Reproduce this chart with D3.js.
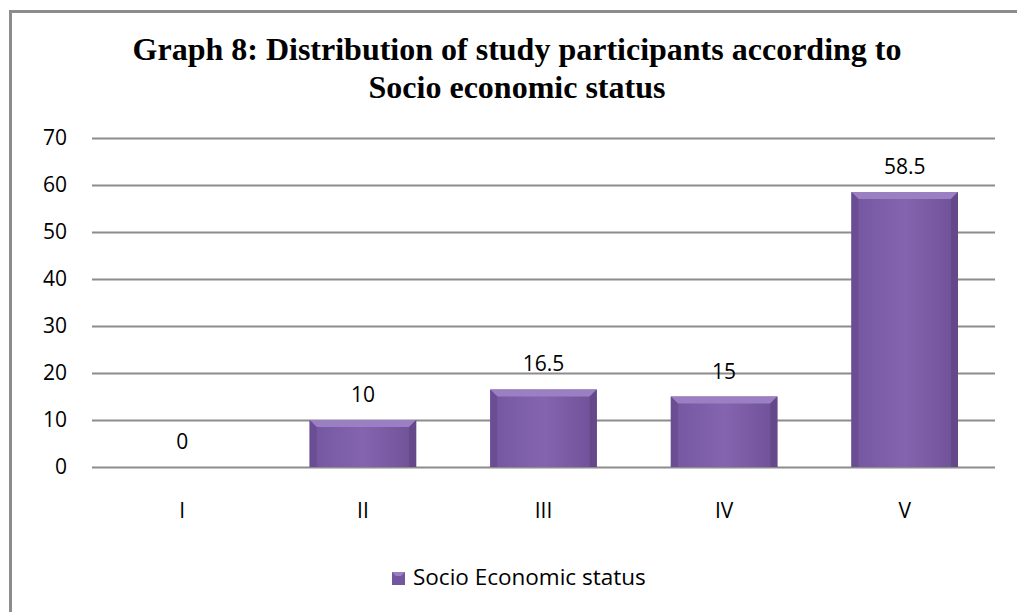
<!DOCTYPE html>
<html lang="en">
<head>
<meta charset="UTF-8">
<title>Graph 8</title>
<style>
    body { margin: 0; background: #fff; }
    svg { display: block; }
</style>
</head>
<body>
<div id="content"></div>
<script src="https://d3js.org/d3.v7.min.js"></script>
<script>

    // data
    var categories = ["I", "II", "III", "IV", "V"];
    var values = [0, 10, 16.5, 15, 58.5];
    var valueLabels = ["0", "10", "16.5", "15", "58.5"];
    var yTicks = [0, 10, 20, 30, 40, 50, 60, 70];
    var seriesName = "Socio Economic status";
    var titleLines = ["Graph 8: Distribution of study participants according to", "Socio economic status"];

    var width = 1017, height = 612;
    var margin = {left: 92, right: 22, top: 138, bottom: 145};
    var labelFont = "'Open Sans', 'Noto Sans', sans-serif";
    var labelSize = 21;

    var svg = d3.select("#content").append("svg")
        .attr("width", width)
        .attr("height", height);

    // outer frame
    svg.append("rect")
        .attr("x", 10.5).attr("y", 11.5)
        .attr("width", width + 10).attr("height", height + 10)
        .attr("fill", "none")
        .attr("stroke", "#8c8c8c")
        .attr("stroke-width", 3);

    var defs = svg.append("defs");
    var grad = defs.append("linearGradient").attr("id", "barGrad")
        .attr("x1", 0).attr("x2", 1).attr("y1", 0).attr("y2", 0);
    grad.append("stop").attr("offset", "0%").attr("stop-color", "#7456a0");
    grad.append("stop").attr("offset", "50%").attr("stop-color", "#8464ae");
    grad.append("stop").attr("offset", "100%").attr("stop-color", "#6f5198");

    // title
    svg.append("text")
        .attr("x", 517).attr("y", 60)
        .attr("text-anchor", "middle")
        .attr("font-family", "'Liberation Serif', 'Times New Roman', serif")
        .attr("font-weight", "bold")
        .attr("font-size", 32)
        .selectAll("tspan").data(titleLines).enter().append("tspan")
        .attr("x", 517)
        .attr("dy", function (d, i) { return i === 0 ? 0 : 38; })
        .text(function (d) { return d; });

    var x = d3.scaleBand()
        .domain(categories)
        .range([margin.left, width - margin.right])
        .paddingInner(0.41)
        .paddingOuter(0.205);

    var y = d3.scaleLinear()
        .domain([0, 70])
        .range([height - margin.bottom, margin.top]);

    // gridlines
    var yAxis = d3.axisLeft(y).tickValues(yTicks)
        .tickSize(-(width - margin.left - margin.right))
        .tickPadding(25);

    var yAxisG = svg.append("g")
        .attr("transform", "translate(" + margin.left + ",0)")
        .call(yAxis);
    yAxisG.select(".domain").remove();
    yAxisG.selectAll("line").attr("stroke", "#8c8c8c").attr("stroke-width", 2);
    yAxisG.selectAll("text")
        .attr("font-family", labelFont)
        .attr("font-size", labelSize)
        .attr("fill", "#000");

    var xAxis = d3.axisBottom(x).tickSize(0).tickPadding(36);
    var xAxisG = svg.append("g")
        .attr("transform", "translate(0," + y(0) + ")")
        .call(xAxis);
    xAxisG.select(".domain").remove();
    xAxisG.selectAll("text")
        .attr("font-family", labelFont)
        .attr("font-size", labelSize)
        .attr("fill", "#000");

    var data = categories.map(function (c, i) { return {cat: c, val: values[i], label: valueLabels[i]}; });

    // bars with a small bevel
    var bev = 7;
    var bars = svg.append("g").selectAll("g").data(data.filter(function (d) { return d.val > 0; }))
        .enter().append("g");

    bars.append("rect")
        .attr("x", function (d) { return x(d.cat); })
        .attr("y", function (d) { return y(d.val); })
        .attr("width", x.bandwidth())
        .attr("height", function (d) { return y(0) - y(d.val); })
        .attr("fill", "url(#barGrad)");

    // top bevel
    bars.append("path")
        .attr("d", function (d) {
            var x0 = x(d.cat), x1 = x0 + x.bandwidth(), y0 = y(d.val);
            return "M" + x0 + "," + y0 + "L" + x1 + "," + y0 + "L" + (x1 - bev) + "," + (y0 + bev) +
                "L" + (x0 + bev) + "," + (y0 + bev) + "Z";
        })
        .attr("fill", "#9a80c2");
    // left bevel
    bars.append("path")
        .attr("d", function (d) {
            var x0 = x(d.cat), y0 = y(d.val), yb = y(0);
            return "M" + x0 + "," + y0 + "L" + (x0 + bev) + "," + (y0 + bev) + "L" + (x0 + bev) + "," + yb +
                "L" + x0 + "," + yb + "Z";
        })
        .attr("fill", "#6a4d92");
    // right bevel
    bars.append("path")
        .attr("d", function (d) {
            var x1 = x(d.cat) + x.bandwidth(), y0 = y(d.val), yb = y(0);
            return "M" + x1 + "," + y0 + "L" + (x1 - bev) + "," + (y0 + bev) + "L" + (x1 - bev) + "," + yb +
                "L" + x1 + "," + yb + "Z";
        })
        .attr("fill", "#644889");

    // value labels
    svg.append("g").selectAll("text").data(data).enter().append("text")
        .attr("x", function (d) { return x(d.cat) + x.bandwidth() / 2; })
        .attr("y", function (d) { return y(d.val) - 18; })
        .attr("text-anchor", "middle")
        .attr("font-family", labelFont)
        .attr("font-size", labelSize)
        .attr("fill", "#000")
        .text(function (d) { return d.label; });

    // legend
    var legend = svg.append("g").attr("transform", "translate(392,572)");
    legend.append("rect").attr("width", 13).attr("height", 13).attr("fill", "#7456a0");
    legend.append("path").attr("d", "M0,0L13,0L9,4L4,4Z").attr("fill", "#9a80c2");
    legend.append("text")
        .attr("x", 21).attr("y", 13)
        .attr("font-family", labelFont)
        .attr("font-size", 22.5)
        .attr("fill", "#000")
        .text(seriesName);

</script>
</body>
</html>
